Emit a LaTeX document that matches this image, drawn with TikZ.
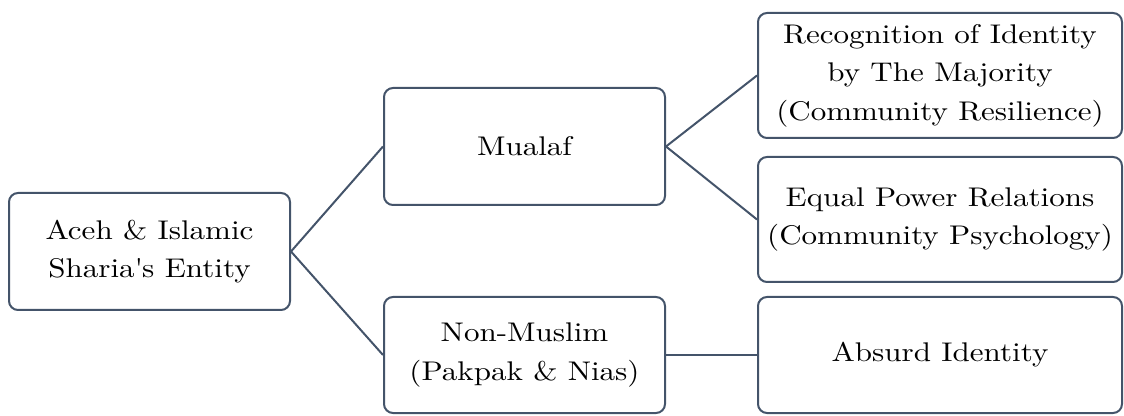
\documentclass[tikz,border=0pt]{standalone}
\usepackage{fontspec}
\newfontfamily\boxfont{lmroman10-regular.otf}[FakeStretch=1.15]
\definecolor{boxc}{HTML}{44546A}
\begin{document}
\begin{tikzpicture}[x=1pt,y=1pt,
  box/.style={draw=boxc, line width=2pt, rounded corners=9pt, fill=white,
    align=center, inner sep=0pt, font=\boxfont\fontsize{27}{38.5}\selectfont},
  link/.style={draw=boxc, line width=2pt}]
\useasboundingbox (0,0) rectangle (1124,415);
\node[box, minimum width=281pt, minimum height=117pt] (L) at (149.5,163.5) {Aceh \& Islamic\\Sharia\textquotesingle s Entity};
\node[box, minimum width=281pt, minimum height=117pt] (M) at (524.5,268.5) {Mualaf};
\node[box, minimum width=281pt, minimum height=116pt] (N) at (524.5,60) {Non-Muslim\\(Pakpak \& Nias)};
\node[box, minimum width=364pt, minimum height=125pt] (R1) at (940,339.5) {Recognition of Identity\\by The Majority\\(Community Resilience)};
\node[box, minimum width=364pt, minimum height=125pt] (R2) at (940,195.5) {Equal Power Relations\\(Community Psychology)};
\node[box, minimum width=364pt, minimum height=116pt] (R3) at (940,60) {Absurd Identity};
\draw[link] (L.east) -- (M.west);
\draw[link] (L.east) -- (N.west);
\draw[link] (M.east) -- (R1.west);
\draw[link] (M.east) -- (R2.west);
\draw[link] (N.east) -- (R3.west);
\end{tikzpicture}
\end{document}
